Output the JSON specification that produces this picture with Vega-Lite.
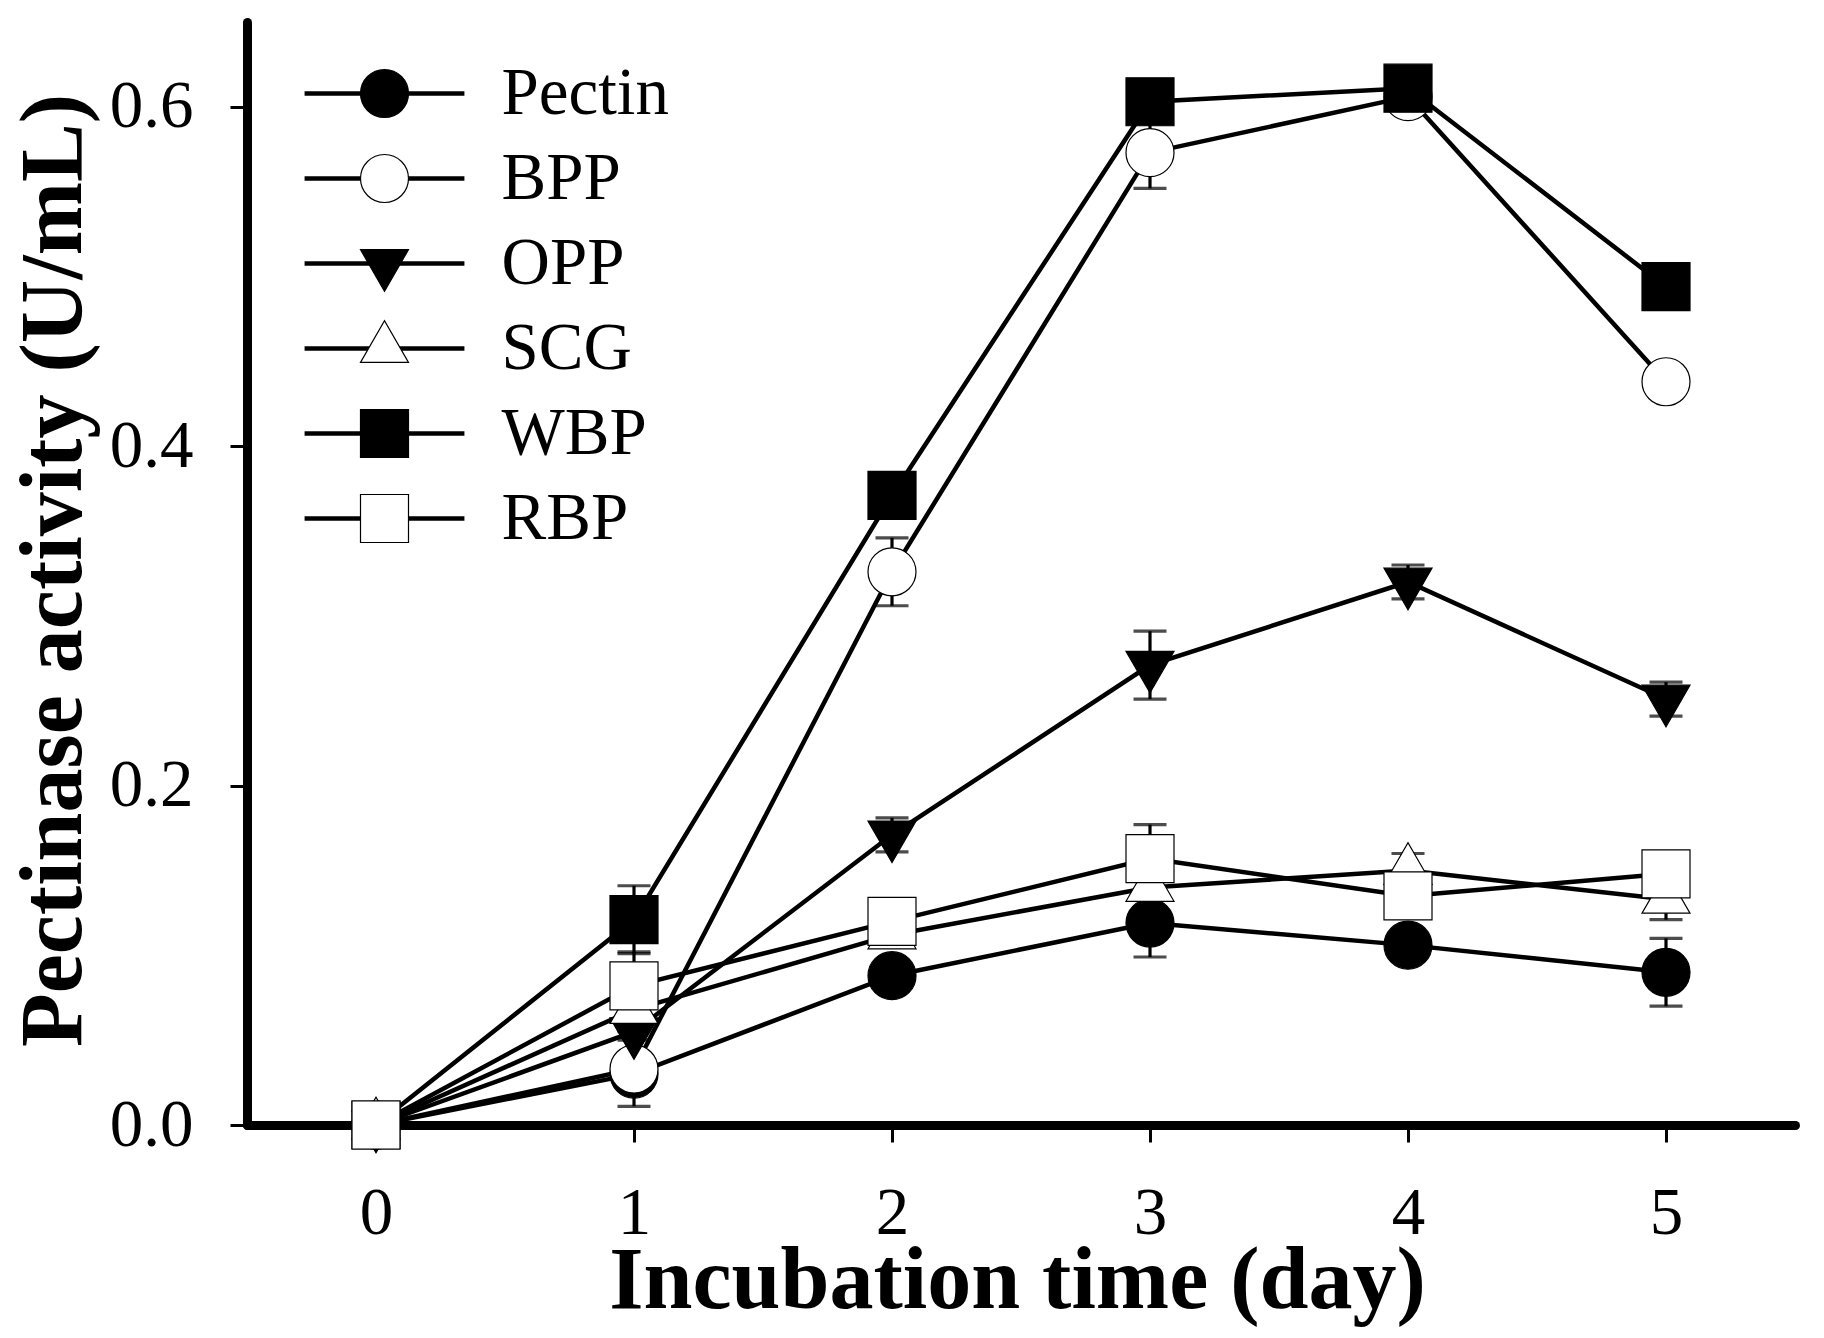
{
  "$schema": "https://vega.github.io/schema/vega-lite/v6.json",
  "autosize": "none",
  "width": 1548,
  "height": 1103,
  "padding": {"left": 247, "top": 22, "right": 29, "bottom": 213},
  "background": "white",
  "config": {
    "view": {"stroke": null},
    "font": "Liberation Serif"
  },
  "datasets": {
    "pts": [
      {"series": "Pectin", "day": 0, "value": 0, "err": null},
      {"series": "Pectin", "day": 1, "value": 0.030, "err": null},
      {"series": "Pectin", "day": 2, "value": 0.088, "err": null},
      {"series": "Pectin", "day": 3, "value": 0.119, "err": 0.020},
      {"series": "Pectin", "day": 4, "value": 0.106, "err": null},
      {"series": "Pectin", "day": 5, "value": 0.090, "err": 0.020},
      {"series": "BPP", "day": 0, "value": 0, "err": null},
      {"series": "BPP", "day": 1, "value": 0.033, "err": 0.022},
      {"series": "BPP", "day": 2, "value": 0.326, "err": 0.020},
      {"series": "BPP", "day": 3, "value": 0.573, "err": 0.021},
      {"series": "BPP", "day": 4, "value": 0.606, "err": null},
      {"series": "BPP", "day": 5, "value": 0.438, "err": null},
      {"series": "OPP", "day": 0, "value": 0, "err": null},
      {"series": "OPP", "day": 1, "value": 0.055, "err": 0.005},
      {"series": "OPP", "day": 2, "value": 0.171, "err": 0.010},
      {"series": "OPP", "day": 3, "value": 0.271, "err": 0.020},
      {"series": "OPP", "day": 4, "value": 0.320, "err": 0.010},
      {"series": "OPP", "day": 5, "value": 0.251, "err": 0.010},
      {"series": "SCG", "day": 0, "value": 0, "err": null},
      {"series": "SCG", "day": 1, "value": 0.068, "err": null},
      {"series": "SCG", "day": 2, "value": 0.112, "err": null},
      {"series": "SCG", "day": 3, "value": 0.140, "err": null},
      {"series": "SCG", "day": 4, "value": 0.150, "err": 0.010},
      {"series": "SCG", "day": 5, "value": 0.133, "err": 0.012},
      {"series": "WBP", "day": 0, "value": 0, "err": null},
      {"series": "WBP", "day": 1, "value": 0.121, "err": 0.020},
      {"series": "WBP", "day": 2, "value": 0.371, "err": null},
      {"series": "WBP", "day": 3, "value": 0.603, "err": null},
      {"series": "WBP", "day": 4, "value": 0.611, "err": null},
      {"series": "WBP", "day": 5, "value": 0.494, "err": null},
      {"series": "RBP", "day": 0, "value": 0, "err": null},
      {"series": "RBP", "day": 1, "value": 0.082, "err": 0.020},
      {"series": "RBP", "day": 2, "value": 0.120, "err": null},
      {"series": "RBP", "day": 3, "value": 0.157, "err": 0.020},
      {"series": "RBP", "day": 4, "value": 0.135, "err": null},
      {"series": "RBP", "day": 5, "value": 0.148, "err": null}
    ]
  },
  "data": {"name": "pts"},
  "encoding": {
    "x": {
      "field": "day", "type": "quantitative",
      "scale": {"domain": [-0.5, 5.5], "nice": false, "zero": false},
      "axis": {
        "values": [0, 1, 2, 3, 4, 5], "format": "d", "grid": false,
        "tickSize": 17, "tickWidth": 3, "tickColor": "black",
        "domainColor": "black", "domainWidth": 9, "domainCap": "round",
        "labelFont": "Liberation Serif", "labelFontSize": 67, "labelColor": "black",
        "labelPadding": 38, "labelFlush": false,
        "title": "Incubation time (day)", "titleFont": "Liberation Serif",
        "titleFontSize": 88, "titleFontWeight": "bold", "titleColor": "black",
        "titleX": 770, "titleY": 112, "titleBaseline": "top", "titleAlign": "center"
      }
    },
    "y": {
      "field": "value", "type": "quantitative",
      "scale": {"domain": [0, 0.65], "nice": false},
      "axis": {
        "values": [0, 0.2, 0.4, 0.6], "format": ".1f", "grid": false,
        "tickSize": 17, "tickWidth": 3, "tickColor": "black",
        "domainColor": "black", "domainWidth": 9, "domainCap": "round",
        "labelFont": "Liberation Serif", "labelFontSize": 67, "labelColor": "black",
        "labelPadding": 37, "labelFlush": false,
        "title": "Pectinase activity (U/mL)", "titleFont": "Liberation Serif",
        "titleFontSize": 88, "titleFontWeight": "bold", "titleColor": "black",
        "titleX": -167, "titleY": 548, "titleAngle": 270,
        "titleBaseline": "alphabetic", "titleAlign": "center"
      }
    }
  },
  "layer": [
    {
      "mark": {"type": "line", "strokeWidth": 4.5},
      "encoding": {
        "stroke": {
          "field": "series", "type": "nominal",
          "scale": {
            "domain": ["Pectin", "BPP", "OPP", "SCG", "WBP", "RBP"],
            "range": ["black", "black", "black", "black", "black", "black"]
          },
          "legend": {
            "orient": "none", "legendX": 104, "legendY": 38, "title": null,
            "symbolType": "M-3.33,0L3.33,0", "symbolSize": 2304,
            "symbolStrokeWidth": 4.5, "symbolStrokeColor": "black",
            "labelFont": "Liberation Serif", "labelFontSize": 67, "labelLimit": 0,
            "labelOpacity": 0, "labelOffset": 83.5, "rowPadding": 17,
            "padding": 0, "zindex": 1
          }
        }
      }
    },
    {
      "transform": [{"filter": "datum.err != null"}],
      "mark": {"type": "errorbar", "ticks": true, "size": 33, "thickness": 3.2, "color": "black"},
      "encoding": {
        "yError": {"field": "err"}
      }
    },
    {
      "mark": {"type": "point", "filled": true, "stroke": "black", "strokeWidth": 1.2, "opacity": 1},
      "encoding": {
        "shape": {
          "field": "series", "type": "nominal",
          "sort": ["Pectin", "BPP", "OPP", "SCG", "WBP", "RBP"],
          "scale": {"range": ["circle", "circle", "M-1,-0.577L1,-0.577L0,1.155Z", "M-1,0.577L1,0.577L0,-1.155Z", "square", "square"]},
          "legend": {
            "orient": "none", "legendX": 104, "legendY": 38, "title": null,
            "symbolSize": 2304, "symbolStrokeColor": "black", "symbolStrokeWidth": 1.2,
            "symbolFillColor": "white", "symbolOpacity": 1,
            "labelFont": "Liberation Serif", "labelFontSize": 67, "labelColor": "black", "labelLimit": 0,
            "labelOffset": 83.5, "rowPadding": 17, "padding": 0, "zindex": 2,
            "encode": {
              "symbols": {
                "update": {
                  "fill": {"scale": "fill", "field": "value"},
                  "stroke": {"value": "black"},
                  "strokeWidth": {"value": 1.2},
                  "opacity": {"value": 1}
                }
              }
            }
          }
        },
        "fill": {
          "field": "series", "type": "nominal",
          "sort": ["Pectin", "BPP", "OPP", "SCG", "WBP", "RBP"],
          "scale": {"range": ["black", "white", "black", "white", "black", "white"]},
          "legend": null
        },
        "size": {
          "field": "series", "type": "nominal",
          "sort": ["Pectin", "BPP", "OPP", "SCG", "WBP", "RBP"],
          "scale": {"range": [2304, 2304, 2704, 2704, 1936, 1936]},
          "legend": null
        }
      }
    }
  ]
}
